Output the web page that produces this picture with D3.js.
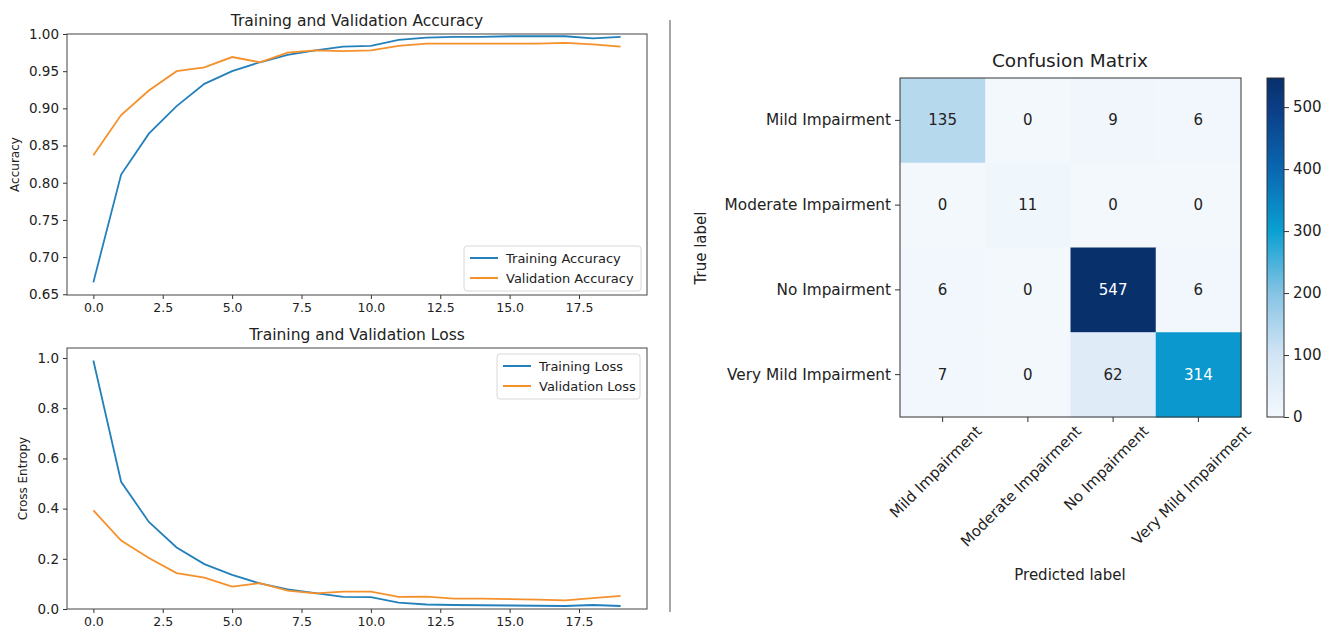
<!DOCTYPE html>
<html>
<head>
<meta charset="utf-8">
<script src="https://cdn.jsdelivr.net/npm/d3@7"></script>
<style>
body{margin:0;background:#fff;}
text{font-family:"DejaVu Sans",sans-serif;fill:#222;}
.axis path,.axis line{stroke:#333;}
</style>
</head>
<body>
<svg id="chart" width="1333" height="632"></svg>
<script>
// data
var epochs=[0,1,2,3,4,5,6,7,8,9,10,11,12,13,14,15,16,17,18,19];
var trainAcc=[0.666,0.811,0.866,0.903,0.933,0.950,0.962,0.972,0.978,0.983,0.984,0.992,0.995,0.996,0.996,0.997,0.997,0.997,0.994,0.996];
var valAcc=[0.837,0.891,0.924,0.950,0.955,0.969,0.962,0.975,0.978,0.977,0.978,0.984,0.987,0.987,0.987,0.987,0.987,0.988,0.986,0.983];
var trainLoss=[0.990,0.507,0.347,0.245,0.179,0.136,0.102,0.078,0.063,0.048,0.047,0.025,0.018,0.016,0.015,0.014,0.013,0.012,0.016,0.012];
var valLoss=[0.393,0.273,0.203,0.143,0.125,0.089,0.103,0.073,0.062,0.069,0.069,0.048,0.049,0.041,0.041,0.039,0.037,0.034,0.043,0.052];

var epochTicks=[0,2.5,5,7.5,10,12.5,15,17.5];
var accTicks=[0.65,0.70,0.75,0.80,0.85,0.90,0.95,1.00];
var lossTicks=[0,0.2,0.4,0.6,0.8,1.0];

var classes=['Mild Impairment','Moderate Impairment','No Impairment','Very Mild Impairment'];
var cm=[
	[135,0,9,6],
	[0,11,0,0],
	[6,0,547,6],
	[7,0,62,314]
];
var cbTicks=[0,100,200,300,400,500];

var blue='#2480ba', orange='#f5912c';

var svg=d3.select('#chart');

// line panel helper
function panel(top,bottom,yDom,yTicks,yFmt,title,ylabel,labelX,series,legendPos){
	var x=d3.scaleLinear().domain([-0.95,19.95]).range([67,647]);
	var y=d3.scaleLinear().domain(yDom).range([bottom,top]);
	var g=svg.append('g');

	g.append('g').attr('class','axis').attr('transform','translate(0,'+bottom+')')
		.call(d3.axisBottom(x).tickValues(epochTicks).tickFormat(d3.format('.1f')).tickSize(4).tickPadding(4))
		.call(function(a){a.select('.domain').remove();})
		.selectAll('text').style('font-size','12.5px');
	g.append('g').attr('class','axis').attr('transform','translate(67,0)')
		.call(d3.axisLeft(y).tickValues(yTicks).tickFormat(d3.format(yFmt)).tickSize(4).tickPadding(4))
		.call(function(a){a.select('.domain').remove();})
		.selectAll('text').style('font-size','13.5px');

	var line=d3.line().x(function(d,i){return x(epochs[i]);}).y(function(d){return y(d);});
	series.forEach(function(s){
		g.append('path').datum(s.v).attr('d',line)
			.attr('fill','none').attr('stroke',s.c).attr('stroke-width',1.8);
	});

	g.append('rect').attr('x',67).attr('y',top).attr('width',580).attr('height',bottom-top)
		.attr('fill','none').attr('stroke','#444').attr('stroke-width',1);

	g.append('text').attr('x',357).attr('y',top-8).attr('text-anchor','middle')
		.style('font-size','15.5px').text(title);
	g.append('text').attr('transform','translate('+labelX+','+((top+bottom)/2)+') rotate(-90)')
		.attr('text-anchor','middle').style('font-size','12px').text(ylabel);

	// legend
	var lg=g.append('g').attr('transform','translate('+legendPos[0]+','+legendPos[1]+')');
	lg.append('rect').attr('width',legendPos[2]).attr('height',45).attr('rx',3)
		.attr('fill','#fff').attr('fill-opacity',0.8).attr('stroke','#d8d8d8');
	series.forEach(function(s,i){
		lg.append('line').attr('x1',6).attr('x2',34).attr('y1',12+i*20).attr('y2',12+i*20)
			.attr('stroke',s.c).attr('stroke-width',2);
		lg.append('text').attr('x',42).attr('y',16.5+i*20).style('font-size','13px').text(s.n);
	});
}

panel(34,295,[0.649,1.0],accTicks,'.2f','Training and Validation Accuracy','Accuracy',19,
	[{v:trainAcc,c:blue,n:'Training Accuracy'},{v:valAcc,c:orange,n:'Validation Accuracy'}],[464,246,177]);
panel(348,609,[0,1.04],lossTicks,'.1f','Training and Validation Loss','Cross Entropy',27,
	[{v:trainLoss,c:blue,n:'Training Loss'},{v:valLoss,c:orange,n:'Validation Loss'}],[497,354,143]);

// divider
svg.append('line').attr('x1',670).attr('x2',670).attr('y1',20).attr('y2',612)
	.attr('stroke','#888').attr('stroke-width',1.5);

// confusion matrix
var cx=d3.scaleBand().domain(d3.range(4)).range([900,1241]);
var cy=d3.scaleBand().domain(d3.range(4)).range([78,417]);
var vmax=d3.max(cm,function(r){return d3.max(r);});
var color=d3.scaleLinear()
	.domain([0,100,200,300,400,500,547].map(function(v){return v/547*vmax;}))
	.range(['#f3f8fd','#d2e5f4','#86c3e4','#0aa0d2','#0a67b2','#0b3d85','#08306b'])
	.interpolate(d3.interpolateRgb);

var cells=[];
cm.forEach(function(r,i){r.forEach(function(v,j){cells.push({i:i,j:j,v:v});});});

var cg=svg.append('g');
cg.selectAll('rect.cell').data(cells).enter().append('rect').attr('class','cell')
	.attr('x',function(d){return cx(d.j);}).attr('y',function(d){return cy(d.i);})
	.attr('width',cx.bandwidth()+0.5).attr('height',cy.bandwidth()+0.5)
	.attr('fill',function(d){return color(d.v);});
cg.selectAll('text.val').data(cells).enter().append('text').attr('class','val')
	.attr('x',function(d){return cx(d.j)+cx.bandwidth()/2;})
	.attr('y',function(d){return cy(d.i)+cy.bandwidth()/2+5;})
	.attr('text-anchor','middle').style('font-size','15px')
	.style('fill',function(d){return d.v>vmax/2?'#fff':'#222';})
	.text(function(d){return d.v;});
cg.append('rect').attr('x',900).attr('y',78).attr('width',341).attr('height',339)
	.attr('fill','none').attr('stroke','#333');

var cxAxis=d3.scaleBand().domain(classes).range([900,1241]);
var cyAxis=d3.scaleBand().domain(classes).range([78,417]);
cg.append('g').attr('class','axis').attr('transform','translate(900,0)')
	.call(d3.axisLeft(cyAxis).tickSize(5).tickPadding(4))
	.call(function(a){a.select('.domain').remove();})
	.selectAll('text').style('font-size','15.3px');

// x labels rotated 45deg, bbox centred under tick
var xg=cg.append('g').attr('class','axis').attr('transform','translate(0,417)')
	.call(d3.axisBottom(cxAxis).tickSize(5))
	.call(function(a){a.select('.domain').remove();});
xg.selectAll('text').style('font-size','15px')
	.attr('text-anchor','middle').attr('dy','0.35em').attr('y',0)
	.attr('transform',function(){
		var L=this.getComputedTextLength();
		var half=(L+15)*0.7071/2;
		return 'translate(-7,'+(6+half)+') rotate(-45)';
	});

cg.append('text').attr('x',1070).attr('y',67).attr('text-anchor','middle')
	.style('font-size','18.5px').text('Confusion Matrix');
cg.append('text').attr('x',1070).attr('y',580).attr('text-anchor','middle')
	.style('font-size','15px').text('Predicted label');
cg.append('text').attr('transform','translate(706,248) rotate(-90)')
	.attr('text-anchor','middle').style('font-size','15px').text('True label');

// colorbar
var cb=d3.scaleLinear().domain([0,vmax]).range([417,78]);
var defs=svg.append('defs');
var grad=defs.append('linearGradient').attr('id','cbg').attr('x1',0).attr('x2',0).attr('y1',1).attr('y2',0);
color.domain().forEach(function(v){
	grad.append('stop').attr('offset',v/vmax).attr('stop-color',color(v));
});
svg.append('rect').attr('x',1267).attr('y',78).attr('width',17).attr('height',339)
	.attr('fill','url(#cbg)').attr('stroke','#333');
svg.append('g').attr('class','axis').attr('transform','translate(1284,0)')
	.call(d3.axisRight(cb).tickValues(cbTicks).tickSize(5).tickPadding(4))
	.call(function(a){a.select('.domain').remove();})
	.selectAll('text').style('font-size','15px');
</script>
</body>
</html>
